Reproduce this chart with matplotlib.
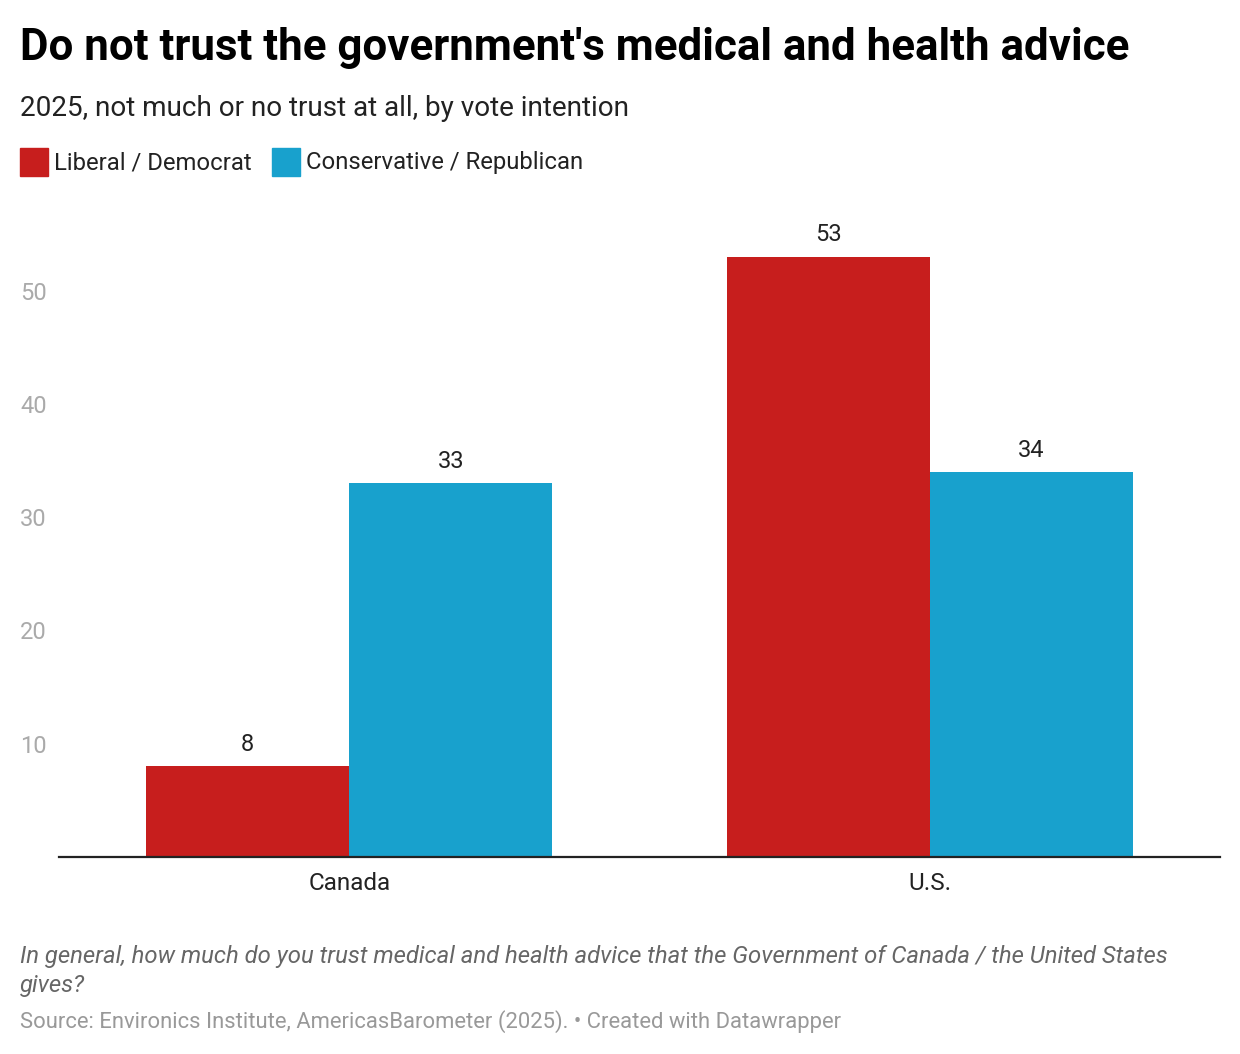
import matplotlib.pyplot as plt
import numpy as np

plt.rcParams['font.family'] = ['Roboto', 'DejaVu Sans']

countries = ['Canada', 'U.S.']
series_names = ['Liberal / Democrat', 'Conservative / Republican']
liberal = [8, 53]
conservative = [33, 34]
colors = ['#c71e1d', '#18a1cd']

W, H = 1240, 1054
fig = plt.figure(figsize=(W / 100, H / 100), dpi=100)

# axes in pixel coords: left 59, right 1220, bottom 857, top 220
ax = fig.add_axes([59 / W, 1 - 857 / H, (1220 - 59) / W, (857 - 220) / H])

x = np.arange(len(countries))
bw = 0.35
b1 = ax.bar(x - bw / 2, liberal, bw, color=colors[0], zorder=2)
b2 = ax.bar(x + bw / 2, conservative, bw, color=colors[1], zorder=2)

for bars in (b1, b2):
    for b in bars:
        ax.text(b.get_x() + b.get_width() / 2, b.get_height() + 0.9, f"{b.get_height():g}",
                ha='center', va='bottom', fontsize=17, color='#222222')

ax.set_xlim(-0.5, 1.5)
ax.set_ylim(0, (857 - 220) / 11.33)
ax.set_xticks(x)
ax.set_xticklabels(countries, fontsize=17.5, color='#222222')
ax.set_yticks([10, 20, 30, 40, 50])
ax.set_yticklabels(['10', '20', '30', '40', '50'], fontsize=17, color='#aaaaaa', ha='left')
ax.tick_params(axis='y', length=0, pad=28)
ax.tick_params(axis='x', length=0, pad=11)
for s in ['top', 'right', 'left']:
    ax.spines[s].set_visible(False)
ax.spines['bottom'].set_color('#222222')
ax.spines['bottom'].set_linewidth(1.6)
ax.spines['bottom'].set_zorder(3)

fig.text(20 / W, 1 - 48 / H, "Do not trust the government's medical and health advice",
         fontsize=31.6, fontweight='bold', va='center', ha='left', color='#000000')
fig.text(20 / W, 1 - 109 / H, "2025, not much or no trust at all, by vote intention",
         fontsize=20.1, va='center', ha='left', color='#222222')

# legend
lx = 20
for name, c in zip(series_names, colors):
    fig.patches.append(plt.Rectangle((lx / W, 1 - 176 / H), 28 / W, 28 / H,
                                     transform=fig.transFigure, color=c))
    t = fig.text((lx + 34) / W, 1 - 163 / H, name, fontsize=17.2, va='center', ha='left',
                 color='#222222')
    fig.canvas.draw()
    bb = t.get_window_extent()
    lx = bb.x1 + 20

fig.text(20 / W, 1 - 971 / H,
         "In general, how much do you trust medical and health advice that the Government of Canada / the United States\ngives?",
         fontsize=17.2, style='italic', va='center', ha='left', color='#666666', linespacing=1.35)
fig.text(20 / W, 1 - 1022 / H,
         "Source: Environics Institute, AmericasBarometer (2025). \u2022 Created with Datawrapper",
         fontsize=15.8, va='center', ha='left', color='#999999')

fig.savefig('out.png', dpi=100)
